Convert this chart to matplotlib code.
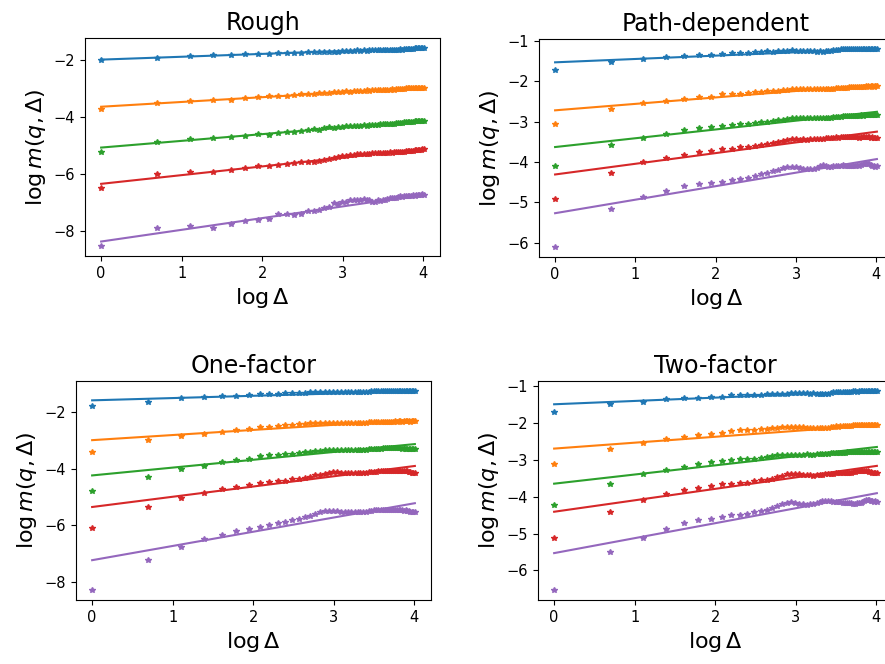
import numpy as np
import matplotlib
matplotlib.use("Agg")
import matplotlib.pyplot as plt

# lags 1..55, plotted against log(lag)
lags = np.arange(1, 56)
titles = ["Rough", "Path-dependent", "One-factor", "Two-factor"]

# log m(q, Delta) for the five q values, one list per series
rough = [
    [-2.00, -1.93, -1.87, -1.85, -1.84, -1.80, -1.80, -1.81, -1.77, -1.77,
     -1.78, -1.76, -1.73, -1.74, -1.73, -1.73, -1.72, -1.72, -1.73, -1.71,
     -1.70, -1.69, -1.70, -1.68, -1.69, -1.68, -1.69, -1.68, -1.67, -1.68,
     -1.67, -1.68, -1.67, -1.66, -1.67, -1.66, -1.66, -1.65, -1.66, -1.65,
     -1.64, -1.65, -1.64, -1.63, -1.63, -1.62, -1.63, -1.62, -1.61, -1.61,
     -1.60, -1.61, -1.60, -1.59, -1.59],
    [-3.72, -3.51, -3.44, -3.43, -3.40, -3.35, -3.30, -3.29, -3.27, -3.26,
     -3.24, -3.22, -3.20, -3.21, -3.17, -3.17, -3.16, -3.15, -3.14, -3.13,
     -3.11, -3.12, -3.10, -3.10, -3.09, -3.10, -3.08, -3.09, -3.08, -3.07,
     -3.07, -3.06, -3.07, -3.05, -3.06, -3.05, -3.04, -3.05, -3.04, -3.03,
     -3.03, -3.02, -3.02, -3.01, -3.01, -3.00, -3.00, -2.99, -3.00, -2.99,
     -2.99, -2.98, -2.99, -2.98, -2.98],
    [-5.23, -4.87, -4.79, -4.76, -4.70, -4.66, -4.62, -4.64, -4.58, -4.55,
     -4.52, -4.50, -4.47, -4.44, -4.45, -4.40, -4.37, -4.38, -4.35, -4.35,
     -4.33, -4.32, -4.33, -4.31, -4.31, -4.30, -4.31, -4.29, -4.30, -4.28,
     -4.28, -4.27, -4.27, -4.26, -4.25, -4.26, -4.24, -4.25, -4.23, -4.23,
     -4.21, -4.22, -4.20, -4.19, -4.19, -4.18, -4.17, -4.17, -4.16, -4.16,
     -4.15, -4.16, -4.15, -4.14, -4.14],
    [-6.50, -6.01, -5.95, -5.92, -5.86, -5.80, -5.74, -5.74, -5.70, -5.65,
     -5.63, -5.60, -5.59, -5.57, -5.55, -5.53, -5.49, -5.45, -5.42, -5.38,
     -5.36, -5.35, -5.33, -5.32, -5.31, -5.30, -5.30, -5.29, -5.28, -5.28,
     -5.27, -5.27, -5.26, -5.27, -5.26, -5.25, -5.26, -5.24, -5.24, -5.23,
     -5.23, -5.22, -5.23, -5.21, -5.21, -5.20, -5.19, -5.19, -5.18, -5.17,
     -5.17, -5.16, -5.15, -5.14, -5.13],
    [-8.53, -7.91, -7.81, -7.91, -7.77, -7.66, -7.60, -7.57, -7.40, -7.41,
     -7.43, -7.40, -7.31, -7.29, -7.26, -7.21, -7.17, -7.02, -7.05, -7.00,
     -6.97, -6.93, -6.93, -6.91, -6.91, -6.88, -6.91, -6.93, -6.97, -6.98,
     -6.93, -6.95, -6.91, -6.93, -6.88, -6.86, -6.85, -6.83, -6.83, -6.81,
     -6.79, -6.80, -6.78, -6.79, -6.77, -6.76, -6.77, -6.75, -6.76, -6.74,
     -6.74, -6.73, -6.74, -6.72, -6.73],
]

path_dep = [
    [-1.73, -1.52, -1.44, -1.41, -1.38, -1.36, -1.36, -1.33, -1.30, -1.31,
     -1.30, -1.28, -1.27, -1.26, -1.27, -1.26, -1.25, -1.25, -1.23, -1.25,
     -1.25, -1.26, -1.26, -1.25, -1.26, -1.27, -1.26, -1.27, -1.26, -1.25,
     -1.24, -1.23, -1.22, -1.22, -1.21, -1.21, -1.20, -1.21, -1.20, -1.20,
     -1.20, -1.20, -1.21, -1.20, -1.20, -1.20, -1.20, -1.21, -1.20, -1.20,
     -1.20, -1.20, -1.20, -1.20, -1.20],
    [-3.06, -2.69, -2.55, -2.48, -2.43, -2.40, -2.38, -2.32, -2.32, -2.31,
     -2.29, -2.27, -2.27, -2.25, -2.24, -2.23, -2.21, -2.21, -2.20, -2.20,
     -2.20, -2.19, -2.20, -2.20, -2.19, -2.20, -2.19, -2.20, -2.19, -2.19,
     -2.18, -2.18, -2.17, -2.17, -2.17, -2.16, -2.16, -2.16, -2.15, -2.15,
     -2.14, -2.14, -2.14, -2.13, -2.13, -2.13, -2.13, -2.12, -2.12, -2.13,
     -2.12, -2.12, -2.13, -2.12, -2.12],
    [-4.09, -3.59, -3.40, -3.30, -3.21, -3.17, -3.14, -3.11, -3.09, -3.07,
     -3.05, -3.04, -3.01, -3.00, -2.98, -2.97, -2.95, -2.93, -2.92, -2.91,
     -2.91, -2.92, -2.92, -2.91, -2.92, -2.92, -2.91, -2.92, -2.91, -2.91,
     -2.90, -2.89, -2.89, -2.88, -2.88, -2.87, -2.87, -2.86, -2.87, -2.86,
     -2.85, -2.86, -2.85, -2.85, -2.84, -2.85, -2.84, -2.84, -2.83, -2.84,
     -2.84, -2.83, -2.84, -2.83, -2.84],
    [-4.93, -4.27, -4.00, -3.89, -3.82, -3.76, -3.73, -3.69, -3.67, -3.64,
     -3.62, -3.60, -3.58, -3.55, -3.52, -3.50, -3.48, -3.45, -3.44, -3.44,
     -3.45, -3.44, -3.45, -3.44, -3.43, -3.43, -3.42, -3.42, -3.41, -3.41,
     -3.40, -3.40, -3.39, -3.40, -3.39, -3.39, -3.38, -3.38, -3.39, -3.38,
     -3.38, -3.39, -3.38, -3.40, -3.39, -3.38, -3.37, -3.38, -3.37, -3.39,
     -3.40, -3.39, -3.41, -3.40, -3.40],
    [-6.11, -5.17, -4.88, -4.72, -4.60, -4.55, -4.52, -4.50, -4.44, -4.42,
     -4.40, -4.36, -4.31, -4.27, -4.22, -4.19, -4.16, -4.13, -4.12, -4.12,
     -4.14, -4.17, -4.18, -4.18, -4.17, -4.14, -4.11, -4.08, -4.11, -4.12,
     -4.12, -4.11, -4.10, -4.11, -4.09, -4.08, -4.10, -4.09, -4.11, -4.10,
     -4.10, -4.09, -4.08, -4.09, -4.07, -4.06, -4.05, -4.03, -4.04, -4.06,
     -4.08, -4.10, -4.11, -4.12, -4.11],
]

one_factor = [
    [-1.80, -1.65, -1.52, -1.49, -1.45, -1.46, -1.40, -1.38, -1.38, -1.38,
     -1.35, -1.33, -1.34, -1.33, -1.32, -1.32, -1.32, -1.31, -1.32, -1.31,
     -1.31, -1.31, -1.32, -1.31, -1.31, -1.31, -1.30, -1.31, -1.31, -1.30,
     -1.29, -1.28, -1.28, -1.28, -1.28, -1.28, -1.28, -1.28, -1.28, -1.28,
     -1.28, -1.27, -1.28, -1.28, -1.27, -1.28, -1.28, -1.27, -1.28, -1.28,
     -1.28, -1.27, -1.28, -1.28, -1.28],
    [-3.43, -3.01, -2.86, -2.79, -2.70, -2.66, -2.61, -2.55, -2.53, -2.51,
     -2.46, -2.46, -2.44, -2.44, -2.41, -2.41, -2.40, -2.40, -2.40, -2.39,
     -2.40, -2.40, -2.40, -2.40, -2.41, -2.40, -2.40, -2.40, -2.40, -2.39,
     -2.37, -2.37, -2.36, -2.36, -2.36, -2.36, -2.36, -2.35, -2.35, -2.35,
     -2.35, -2.35, -2.34, -2.35, -2.34, -2.34, -2.35, -2.34, -2.34, -2.34,
     -2.34, -2.35, -2.34, -2.34, -2.34],
    [-4.79, -4.28, -4.02, -3.90, -3.77, -3.70, -3.65, -3.57, -3.53, -3.51,
     -3.50, -3.47, -3.45, -3.43, -3.41, -3.38, -3.38, -3.36, -3.35, -3.34,
     -3.34, -3.34, -3.35, -3.34, -3.34, -3.34, -3.33, -3.34, -3.34, -3.33,
     -3.31, -3.31, -3.30, -3.30, -3.30, -3.30, -3.29, -3.29, -3.29, -3.29,
     -3.29, -3.29, -3.28, -3.29, -3.29, -3.29, -3.30, -3.29, -3.30, -3.31,
     -3.30, -3.31, -3.32, -3.32, -3.32],
    [-6.09, -5.36, -5.03, -4.85, -4.71, -4.64, -4.56, -4.50, -4.48, -4.44,
     -4.42, -4.38, -4.35, -4.32, -4.28, -4.24, -4.21, -4.18, -4.16, -4.13,
     -4.13, -4.14, -4.14, -4.15, -4.15, -4.16, -4.15, -4.14, -4.14, -4.14,
     -4.12, -4.12, -4.11, -4.11, -4.10, -4.10, -4.09, -4.10, -4.09, -4.09,
     -4.09, -4.08, -4.08, -4.09, -4.08, -4.07, -4.08, -4.09, -4.10, -4.09,
     -4.11, -4.12, -4.14, -4.15, -4.16],
    [-8.27, -7.22, -6.75, -6.49, -6.33, -6.20, -6.14, -6.06, -5.97, -5.93,
     -5.88, -5.82, -5.76, -5.71, -5.66, -5.60, -5.54, -5.50, -5.50, -5.50,
     -5.50, -5.51, -5.51, -5.52, -5.52, -5.51, -5.51, -5.52, -5.53, -5.51,
     -5.49, -5.48, -5.47, -5.47, -5.46, -5.46, -5.45, -5.46, -5.45, -5.45,
     -5.46, -5.45, -5.46, -5.47, -5.46, -5.45, -5.47, -5.48, -5.47, -5.49,
     -5.50, -5.51, -5.52, -5.53, -5.53],
]

two_factor = [
    [-1.71, -1.50, -1.43, -1.37, -1.34, -1.32, -1.29, -1.29, -1.25, -1.25,
     -1.24, -1.24, -1.24, -1.23, -1.23, -1.23, -1.22, -1.21, -1.20, -1.20,
     -1.20, -1.20, -1.20, -1.21, -1.20, -1.22, -1.23, -1.23, -1.22, -1.22,
     -1.19, -1.18, -1.18, -1.17, -1.17, -1.16, -1.17, -1.16, -1.16, -1.16,
     -1.15, -1.15, -1.16, -1.15, -1.15, -1.15, -1.14, -1.15, -1.14, -1.15,
     -1.15, -1.14, -1.15, -1.15, -1.15],
    [-3.11, -2.70, -2.56, -2.45, -2.39, -2.33, -2.30, -2.27, -2.23, -2.21,
     -2.20, -2.19, -2.17, -2.16, -2.15, -2.13, -2.12, -2.11, -2.11, -2.11,
     -2.12, -2.12, -2.13, -2.13, -2.14, -2.15, -2.15, -2.14, -2.13, -2.13,
     -2.11, -2.11, -2.10, -2.11, -2.10, -2.10, -2.09, -2.09, -2.09, -2.08,
     -2.07, -2.07, -2.06, -2.07, -2.06, -2.06, -2.06, -2.05, -2.06, -2.05,
     -2.05, -2.05, -2.05, -2.05, -2.06],
    [-4.22, -3.66, -3.40, -3.29, -3.19, -3.13, -3.07, -3.04, -3.01, -2.99,
     -2.99, -2.97, -2.95, -2.93, -2.91, -2.88, -2.87, -2.86, -2.86, -2.86,
     -2.86, -2.86, -2.85, -2.86, -2.86, -2.85, -2.85, -2.85, -2.84, -2.85,
     -2.83, -2.83, -2.82, -2.82, -2.81, -2.81, -2.81, -2.80, -2.80, -2.80,
     -2.80, -2.80, -2.79, -2.80, -2.79, -2.79, -2.80, -2.79, -2.79, -2.80,
     -2.79, -2.80, -2.80, -2.80, -2.80],
    [-5.12, -4.41, -4.10, -3.94, -3.82, -3.76, -3.71, -3.67, -3.65, -3.63,
     -3.62, -3.59, -3.56, -3.54, -3.51, -3.47, -3.44, -3.40, -3.38, -3.38,
     -3.40, -3.41, -3.41, -3.42, -3.43, -3.42, -3.41, -3.41, -3.40, -3.40,
     -3.38, -3.38, -3.37, -3.37, -3.37, -3.36, -3.36, -3.36, -3.35, -3.35,
     -3.33, -3.33, -3.32, -3.32, -3.31, -3.31, -3.31, -3.32, -3.32, -3.33,
     -3.34, -3.35, -3.35, -3.36, -3.36],
    [-6.53, -5.49, -5.12, -4.88, -4.71, -4.63, -4.60, -4.56, -4.51, -4.49,
     -4.47, -4.42, -4.40, -4.35, -4.31, -4.26, -4.20, -4.16, -4.15, -4.17,
     -4.20, -4.21, -4.22, -4.21, -4.20, -4.16, -4.14, -4.13, -4.13, -4.13,
     -4.12, -4.14, -4.15, -4.14, -4.15, -4.16, -4.16, -4.17, -4.17, -4.18,
     -4.19, -4.19, -4.18, -4.17, -4.16, -4.14, -4.12, -4.10, -4.08, -4.10,
     -4.12, -4.13, -4.14, -4.13, -4.14],
]

# fitted lines (intercept, slope) for each series
rough_fit = [(-2.00, 0.100), (-3.65, 0.167), (-5.08, 0.235), (-6.35, 0.305), (-8.37, 0.410)]
path_fit = [(-1.53, 0.083), (-2.72, 0.160), (-3.63, 0.218), (-4.31, 0.265), (-5.27, 0.335)]
one_fit = [(-1.60, 0.080), (-3.00, 0.180), (-4.24, 0.275), (-5.35, 0.360), (-7.22, 0.500)]
two_fit = [(-1.50, 0.090), (-2.70, 0.160), (-3.65, 0.248), (-4.41, 0.310), (-5.53, 0.405)]

panels = [rough, path_dep, one_factor, two_factor]
fits = [rough_fit, path_fit, one_fit, two_fit]

W, H = 885, 664
# axes boxes in pixels: left, top, right, bottom
boxes = [(85, 38, 440, 256), (539, 39, 893, 257),
         (76, 381, 431, 600), (538, 381, 893, 600)]
colors = plt.rcParams['axes.prop_cycle'].by_key()['color']

fig = plt.figure(figsize=(W / 100, H / 100), dpi=100)
x = np.log(lags)

for title, data, fit, (l, t, r, b) in zip(titles, panels, fits, boxes):
    ax = fig.add_axes([l / W, (H - b) / H, (r - l) / W, (b - t) / H])
    for i, (series, (a0, a1)) in enumerate(zip(data, fit)):
        c = colors[i]
        ax.plot(x, series, '*', color=c, markersize=4)
        ax.plot(x, a0 + a1 * x, '-', color=c, linewidth=1.5)
    ax.set_title(title, fontsize=17)
    ax.set_xlabel(r'$\log\Delta$', fontsize=16)
    ax.set_ylabel(r'$\log m(q,\Delta)$', fontsize=16)
    ax.tick_params(labelsize=10.5)
    ax.set_xticks([0, 1, 2, 3, 4])

fig.savefig("out.png", dpi=100)
